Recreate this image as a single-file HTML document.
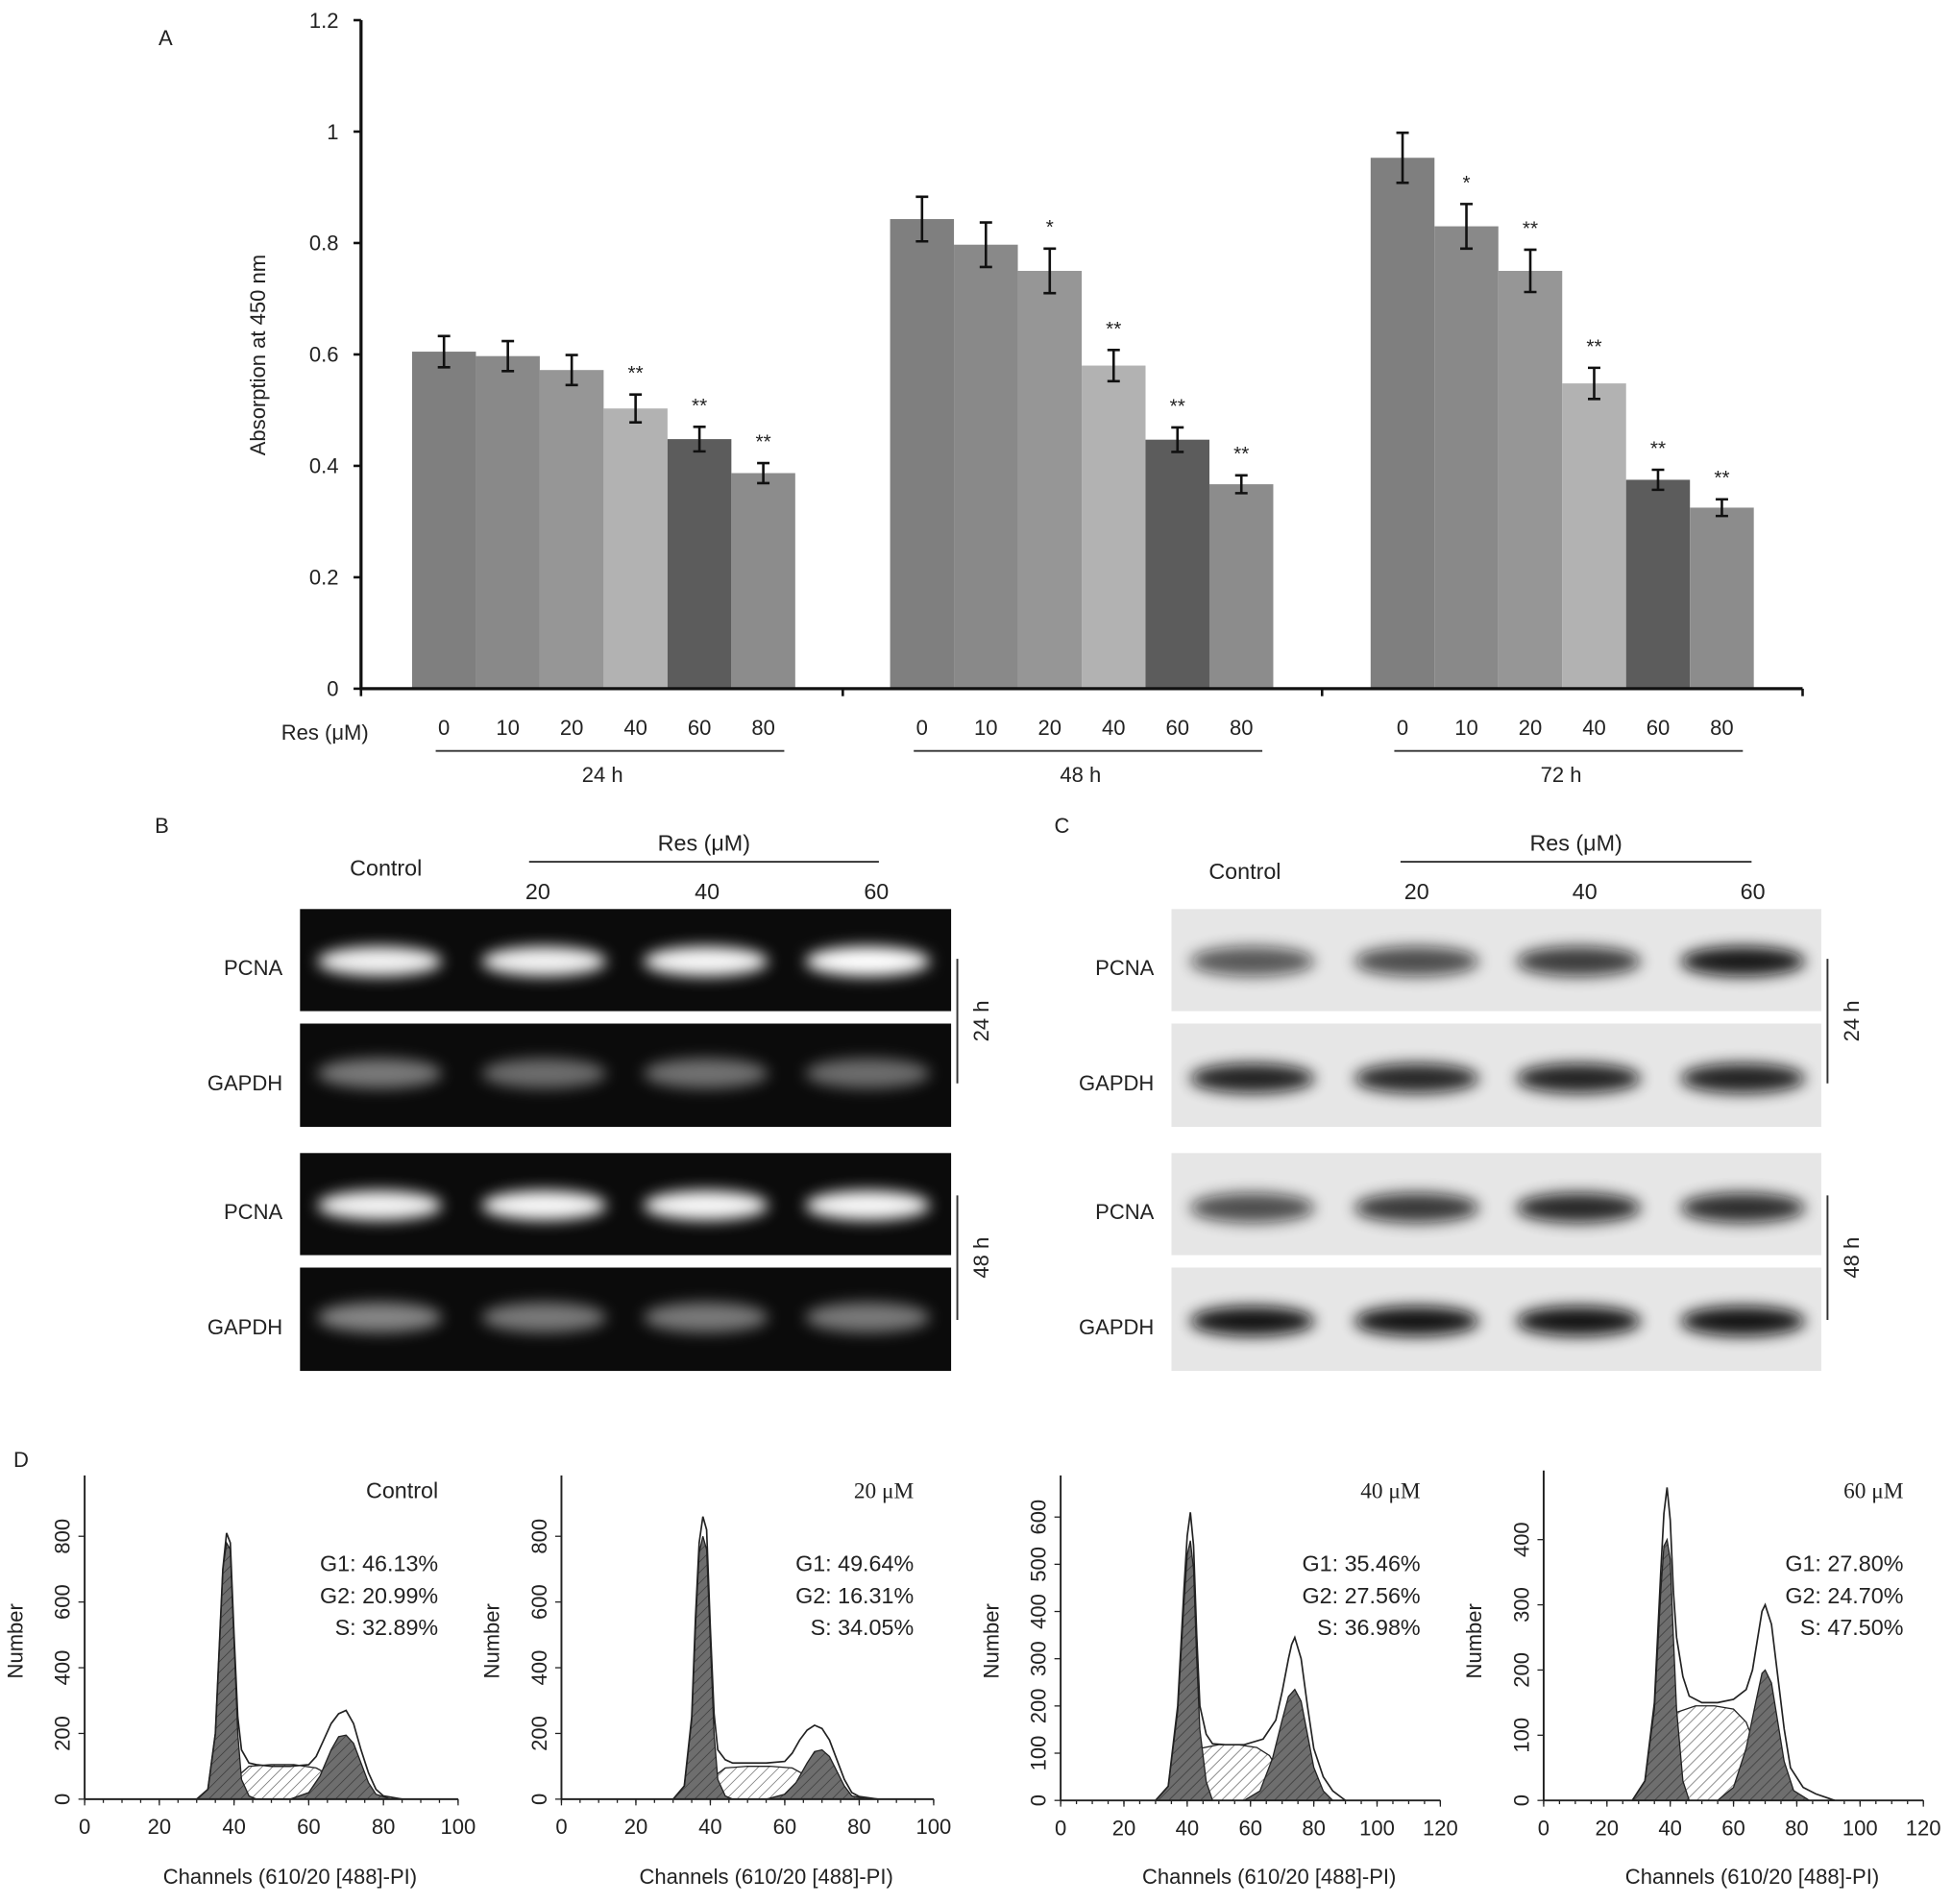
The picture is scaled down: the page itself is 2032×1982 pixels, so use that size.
<!DOCTYPE html>
<html><head><meta charset="utf-8"><style>
html,body{margin:0;padding:0;background:#fff}
svg{display:block}
text{font-family:"Liberation Sans",Arial,sans-serif;fill:#222}
</style></head><body>
<svg id="fig" width="2032" height="1982" viewBox="0 0 1568 1529" xmlns="http://www.w3.org/2000/svg">
<defs>
<filter id="blur" x="-50%" y="-100%" width="200%" height="300%"><feGaussianBlur stdDeviation="6"/></filter>
<pattern id="hatch" width="6" height="6" patternUnits="userSpaceOnUse" patternTransform="rotate(45)"><rect width="6" height="6" fill="#fff"/><line x1="0" y1="0" x2="0" y2="6" stroke="#555" stroke-width="1"/></pattern>
<pattern id="hatchd" width="6" height="6" patternUnits="userSpaceOnUse" patternTransform="rotate(45)"><rect width="6" height="6" fill="#6e6e6e"/><line x1="0" y1="0" x2="0" y2="6" stroke="#333" stroke-width="1"/></pattern>
</defs>
</svg>
<script>
// ---------- Panel A data ----------
const groups=["24 h","48 h","72 h"];
const doses=["0","10","20","40","60","80"];
const vals24=[0.605,0.597,0.572,0.503,0.448,0.387];
const vals48=[0.843,0.797,0.750,0.580,0.447,0.367];
const vals72=[0.953,0.830,0.750,0.548,0.375,0.325];
const err24=[0.028,0.027,0.027,0.025,0.022,0.018];
const err48=[0.040,0.040,0.040,0.028,0.022,0.016];
const err72=[0.045,0.040,0.038,0.028,0.018,0.015];
const stars24=["","","","**","**","**"];
const stars48=["","","*","**","**","**"];
const stars72=["","*","**","**","**","**"];
const yTicks=[0,0.2,0.4,0.6,0.8,1,1.2];
const yTickLabels=["0","0.2","0.4","0.6","0.8","1","1.2"];

// ---------- Panel D data (channel, count) ----------
const histTitles=["Control","20 μM","40 μM","60 μM"];
const histStats=[["G1: 46.13%","G2: 20.99%","S: 32.89%"],["G1: 49.64%","G2: 16.31%","S: 34.05%"],["G1: 35.46%","G2: 27.56%","S: 36.98%"],["G1: 27.80%","G2: 24.70%","S: 47.50%"]];
const hTotCh=[[30,33,35,36,37,38,39,40,41,42,44,46,50,55,60,62,64,66,68,70,72,74,76,78,80,85],
 [30,33,35,36,37,38,39,40,41,42,44,46,50,55,60,62,64,66,68,70,72,74,76,78,80,85],
 [30,34,37,39,40,41,42,43,44,46,48,52,58,64,68,70,72,73,74,76,78,80,83,86,90],
 [28,32,35,37,38,39,40,41,42,44,46,50,55,60,64,66,68,69,70,72,74,76,78,82,86,92]];
const hTotV=[[0,30,200,450,700,810,780,500,250,150,110,105,100,100,105,130,180,230,260,270,230,150,80,30,10,0],
 [0,40,250,550,780,860,820,520,260,150,120,110,110,110,115,140,180,210,225,215,180,120,60,20,8,0],
 [0,30,200,450,560,610,540,350,200,140,120,118,118,130,170,230,300,330,345,300,200,110,50,20,0],
 [0,30,150,350,440,480,430,320,250,190,160,150,150,155,170,200,260,290,300,270,190,110,50,20,10,0]];
const hG1Ch=[[30,33,35,36,37,38,39,40,41,42,44,46],[30,33,35,36,37,38,39,40,41,42,44,46],[30,34,37,39,40,41,42,43,44,46,48],[28,32,35,37,38,39,40,41,42,44,46]];
const hG1V=[[0,30,200,450,700,780,760,480,200,60,10,0],[0,40,240,520,750,800,760,480,200,60,10,0],[0,30,190,420,520,550,490,300,150,40,0],[0,30,140,320,390,400,370,250,140,30,0]];
const hG2Ch=[[55,60,63,66,68,70,72,74,76,78,82],[55,60,63,66,68,70,72,74,76,78,82],[58,63,67,70,72,74,76,78,80,83,86],[55,60,64,67,69,70,72,74,76,79,84]];
const hG2V=[[0,20,70,150,190,195,170,110,50,15,0],[0,15,50,110,145,150,130,85,40,10,0],[0,20,90,170,220,235,210,140,70,20,0],[0,20,80,150,195,200,180,120,60,15,0]];
const hSCh=[[36,40,44,50,56,62,66,70,74],[36,40,44,50,56,62,66,70,74],[36,40,44,50,56,62,66,70,76],[34,38,42,48,54,60,64,68,74]];
const hSV=[[0,60,100,105,105,95,70,30,0],[0,60,95,100,100,95,70,30,0],[0,70,110,118,118,112,95,50,0],[0,80,135,145,145,140,120,70,0]];
const hXMax=[100,100,120,120];
const hXTicks=[[0,20,40,60,80,100],[0,20,40,60,80,100],[0,20,40,60,80,100,120],[0,20,40,60,80,100,120]];
const hYTicks=[[0,200,400,600,800],[0,200,400,600,800],[0,100,200,300,400,500,600],[0,100,200,300,400]];
const hYMax=[985,985,688,506];

const NS="http://www.w3.org/2000/svg";
const svg=document.getElementById('fig');
function mk(tag,attrs,parent,txt){const e=document.createElementNS(NS,tag);for(const k in attrs)e.setAttribute(k,attrs[k]);if(txt!==undefined)e.textContent=txt;(parent||svg).appendChild(e);return e;}

// ---------- Panel A ----------
const gA=mk('g',{});


const y0=553,yTop=16,vMax=1.2;
function yA(v){return y0-(v/vMax)*(y0-yTop);}
const groupStarts=[331,715,1101],bw=51.3;
const barColors=["#7f7f7f","#898989","#969696","#b2b2b2","#5c5c5c","#8c8c8c"];
let t=mk('text',{x:133,y:36,'font-size':17,'text-anchor':'middle'},gA,'A');

yTicks.forEach((v,i)=>{
 mk('line',{x1:284,x2:290,y1:yA(v),y2:yA(v),stroke:'#111','stroke-width':2},gA);
 const tt=mk('text',{x:272,y:yA(v)+6,'font-size':17,'text-anchor':'end',fill:'#333'},gA,yTickLabels[i]);
 
});
const yTitle=mk('text',{transform:'translate(213,285) rotate(-90)','font-size':17,'text-anchor':'middle'},gA,'Absorption at 450 nm');

const allVals=[vals24,vals48,vals72],allErr=[err24,err48,err72],allStars=[stars24,stars48,stars72];
allVals.forEach((vals,g)=>{
 vals.forEach((v,i)=>{
  const x=groupStarts[g]+i*bw;
  const r=mk('rect',{x:x,y:yA(v),width:bw,height:y0-yA(v),fill:barColors[i]},gA);
  
  
  const cx=x+bw/2,e=allErr[g][i];
  mk('path',{d:`M${cx},${yA(v+e)}V${yA(v-e)}M${cx-5},${yA(v+e)}H${cx+5}M${cx-5},${yA(v-e)}H${cx+5}`,stroke:'#111','stroke-width':2,fill:'none'},gA);
  if(allStars[g][i]){const s=mk('text',{x:cx,y:yA(v+e)-12,'font-size':16,'text-anchor':'middle'},gA,allStars[g][i]);
   }
  const dl=mk('text',{x:cx,y:590,'font-size':17,'text-anchor':'middle'},gA,doses[i]);
  
 });
 const gs=groupStarts[g];
 mk('line',{x1:gs+19,x2:gs+299,y1:603,y2:603,stroke:'#333','stroke-width':1.5},gA);
 const gl=mk('text',{x:gs+153,y:628,'font-size':17,'text-anchor':'middle'},gA,groups[g]);
 
});
mk('line',{x1:290,x2:290,y1:yTop,y2:y0+1,stroke:'#111','stroke-width':2.5},gA);
mk('line',{x1:290,x2:1448,y1:y0,y2:y0,stroke:'#111','stroke-width':2.5},gA);
[290,677,1062,1448].forEach(x=>mk('line',{x1:x,x2:x,y1:y0,y2:y0+6,stroke:'#111','stroke-width':2},gA));
t=mk('text',{x:261,y:594,'font-size':17,'text-anchor':'middle'},gA,'Res (μM)');


// ---------- Panels B & C ----------
const boxY=[730,822,926,1018],boxH=[82,83,82,83];
const rowLab=["PCNA","GAPDH","PCNA","GAPDH"];
function panel(name,letter,lx,x0,x1,bg,lanes,bandCol,bandOp,bandY,bracketX,hdr){
 const g=mk('g',{});
 
 mk('text',{x:lx,y:669,'font-size':17,'text-anchor':'middle'},g,letter);
 mk('text',{x:hdr[0],y:hdr[5],'font-size':18,'text-anchor':'middle'},g,'Control');
 mk('text',{x:(hdr[1]+hdr[2])/2,y:683,'font-size':18,'text-anchor':'middle'},g,'Res (μM)');
 mk('line',{x1:hdr[1],x2:hdr[2],y1:692,y2:692,stroke:'#333','stroke-width':1.5},g);
 ["20","40","60"].forEach((s,i)=>mk('text',{x:hdr[3]+i*hdr[4],y:722,'font-size':18,'text-anchor':'middle'},g,s));
 boxY.forEach((by,r)=>{
  const b=mk('rect',{x:x0,y:by,width:x1-x0,height:boxH[r],fill:bg},g);
  
  mk('text',{x:x0-14,y:by+boxH[r]/2+12,'font-size':17,'text-anchor':'end'},g,rowLab[r]);
  lanes.forEach((lx2,i)=>{
   const band=mk('ellipse',{cx:lx2,cy:bandY[r],rx:50,ry:12,fill:bandCol,opacity:bandOp[r][i],filter:'url(#blur)'},g);
   
  });
 });
 [[770,870,'24 h'],[960,1060,'48 h']].forEach(([a,b2,l])=>{
  mk('line',{x1:bracketX,x2:bracketX,y1:a,y2:b2,stroke:'#333','stroke-width':1.5},g);
  mk('text',{transform:`translate(${bracketX+25},${(a+b2)/2}) rotate(-90)`,'font-size':17,'text-anchor':'middle'},g,l);
 });
}
panel('panel-b-gel','B',130,241,764,'#0b0b0b',[305,437,567,697],'#ffffff',
 [[0.95,0.95,0.97,1],[0.45,0.4,0.42,0.4],[0.95,0.97,0.97,0.97],[0.5,0.45,0.45,0.45]],[772,862,968,1058],769,[310,425,706,432,136,703]);
panel('panel-c-western-blot','C',853,941,1463,'#e6e6e6',[1006,1138,1268,1400],'#0a0a0a',
 [[0.65,0.7,0.78,0.95],[0.9,0.88,0.9,0.9],[0.7,0.8,0.88,0.85],[0.97,0.97,0.97,0.97]],[772,866,970,1061],1468,[1000,1125,1407,1138,135,706]);

// ---------- Panel D ----------
mk('text',{x:17,y:1178,'font-size':17,'text-anchor':'middle'},svg,'D');
const plots=[{x0:68,x1:368,yb:1445,yt:1185},{x0:451,x1:750,yb:1445,yt:1185},{x0:852,x1:1157,yb:1446,yt:1185},{x0:1240,x1:1545,yb:1446,yt:1181}];
plots.forEach((p,k)=>{
 const g=mk('g',{});
 
 const xs=c=>p.x0+c/hXMax[k]*(p.x1-p.x0);
 const ys=v=>p.yb-v/hYMax[k]*(p.yb-p.yt);
 const area=(ch,v)=>'M'+xs(ch[0])+','+p.yb+ch.map((c,i)=>'L'+xs(c)+','+ys(v[i])).join('')+'L'+xs(ch[ch.length-1])+','+p.yb+'Z';
 const line=(ch,v)=>ch.map((c,i)=>(i?'L':'M')+xs(c)+','+ys(v[i])).join('');
 const s=mk('path',{d:area(hSCh[k],hSV[k]),fill:'url(#hatch)',stroke:'#222','stroke-width':1},g);
 
 const g1=mk('path',{d:area(hG1Ch[k],hG1V[k]),fill:'url(#hatchd)',stroke:'#222','stroke-width':1},g);
 
 const g2=mk('path',{d:area(hG2Ch[k],hG2V[k]),fill:'url(#hatchd)',stroke:'#222','stroke-width':1},g);
 
 const tot=mk('path',{d:line(hTotCh[k],hTotV[k]),fill:'none',stroke:'#222','stroke-width':1.3},g);
 
 mk('line',{x1:p.x0,x2:p.x0,y1:p.yt,y2:p.yb,stroke:'#222','stroke-width':1.5},g);
 mk('line',{x1:p.x0,x2:p.x1,y1:p.yb,y2:p.yb,stroke:'#222','stroke-width':1.5},g);
 hXTicks[k].forEach(c=>{mk('line',{x1:xs(c),x2:xs(c),y1:p.yb,y2:p.yb+5,stroke:'#222'},g);
  mk('text',{x:xs(c),y:p.yb+28,'font-size':17,'text-anchor':'middle'},g,String(c));});
 for(let c=0;c<=hXMax[k];c+=5)mk('line',{x1:xs(c),x2:xs(c),y1:p.yb,y2:p.yb+3,stroke:'#222'},g);
 hYTicks[k].forEach(v=>{mk('line',{x1:p.x0-5,x2:p.x0,y1:ys(v),y2:ys(v),stroke:'#222'},g);
  mk('text',{transform:`translate(${p.x0-12},${ys(v)}) rotate(-90)`,'font-size':17,'text-anchor':'middle'},g,String(v));});
 mk('text',{x:(p.x0+p.x1)/2+15,y:1513,'font-size':17,'text-anchor':'middle'},g,'Channels (610/20 [488]-PI)');
 mk('text',{transform:`translate(${p.x0-50},${1318}) rotate(-90)`,'font-size':17,'text-anchor':'middle'},g,'Number');
 const rx=p.x1-16;
 mk('text',{x:rx,y:1203,'font-size':18,'text-anchor':'end',style:k==0?'':'font-family:"Liberation Serif",serif'},g,histTitles[k]);
 histStats[k].forEach((st,i)=>mk('text',{x:rx,y:1262+i*25.5,'font-size':18,'text-anchor':'end'},g,st));
});
</script>
</body></html>
